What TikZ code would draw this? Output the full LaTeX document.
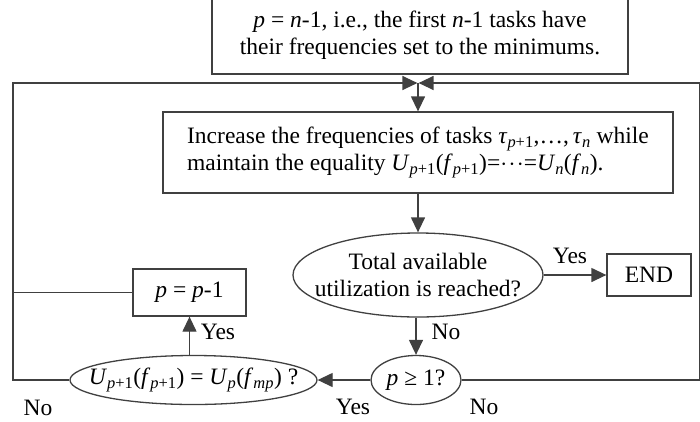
\documentclass[tikz,border=0pt]{standalone}
\usepackage{fontspec}
\setmainfont{Liberation Serif}
\usepackage{tikz}
\usetikzlibrary{arrows.meta, positioning, shapes.geometric}

\newcommand{\vr}[1]{\textit{#1}}
\newcommand{\sbs}[1]{\textsubscript{#1}}

\begin{document}
\begin{tikzpicture}[
  x=1pt, y=-1pt,
  every node/.style={font=\fontsize{23.5}{27}\selectfont},
  proc/.style={rectangle, draw=black!75, line width=1.3pt, inner sep=0pt},
  test/.style={ellipse, draw=black!75, line width=1.3pt, inner xsep=-80pt, inner ysep=-40pt},
  tag/.style={inner sep=0pt},
  link/.style={line width=1.3pt, draw=black!75},
  arrow/.style={link, -{Triangle[length=15pt, width=14pt]}}
]
  \useasboundingbox (0,0) rectangle (700,421);

  \node[proc, minimum width=416pt, minimum height=78pt, align=center] (init) at (420,35)
    {\vr{p} = \vr{n}-1, i.e., the first \vr{n}-1 tasks have\\their frequencies set to the minimums.};
  \node[proc, minimum width=510pt, minimum height=81pt, align=left] (incr) at (418,152.5)
    {Increase the frequencies of tasks \vr{τ}\sbs{\vr{p}+1},…,\,\vr{τ}\sbs{\vr{n}} while\\
     maintain the equality \vr{U}\sbs{\vr{p}+1}(\vr{f}\sbs{\vr{p}+1})=$\cdot\!\cdot\!\cdot$=\vr{U}\sbs{\vr{n}}(\vr{f}\sbs{\vr{n}}).};
  \node[test, minimum width=250pt, minimum height=84pt, align=center] (total) at (418,275)
    {Total available\\utilization is reached?};
  \node[proc, minimum width=84pt, minimum height=42pt] (finish) at (649,275) {END};
  \node[proc, minimum width=113pt, minimum height=47pt] (dec) at (189.5,292.5) {\vr{p} = \vr{p}-1};
  \node[test, minimum width=247pt, minimum height=49pt] (eq) at (193.5,380)
    {\vr{U}\sbs{\vr{p}+1}(\vr{f}\sbs{\vr{p}+1}) = \vr{U}\sbs{\vr{p}}(\vr{f}\sbs{\vr{mp}}) ?};
  \node[test, minimum width=90pt, minimum height=49pt] (pge) at (416,380) {\vr{p} ≥ 1?};

  \coordinate (tl) at (13,83);
  \coordinate (tr) at (700,83);
  \coordinate (bl) at (13,380);
  \coordinate (br) at (700,380);
  \coordinate (join) at (418,83);

  % loop back to the top
  \draw[arrow] (eq.west) -- (bl) -- (tl) -- ([xshift=-0.6pt]join);
  \draw[arrow] (pge.east) -- (br) -- (tr) -- ([xshift=0.6pt]join);
  \draw[link] (dec.west) -- (dec.west -| tl);
  \draw[arrow] (join) -- (incr.north);

  \draw[arrow] (incr.south) -- (total.north);
  \draw[arrow] (total.east) -- (finish.west);
  \draw[arrow] (total.south -| pge.north) -- (pge.north);
  \draw[arrow] (pge.west) -- (eq.east);
  \draw[arrow] (eq.north -| dec.south) -- (dec.south);

  \node[tag] at (570,256) {Yes};
  \node[tag] at (446,332) {No};
  \node[tag] at (218,332) {Yes};
  \node[tag] at (353,407) {Yes};
  \node[tag] at (484,407) {No};
  \node[tag] at (38,408) {No};
\end{tikzpicture}
\end{document}
